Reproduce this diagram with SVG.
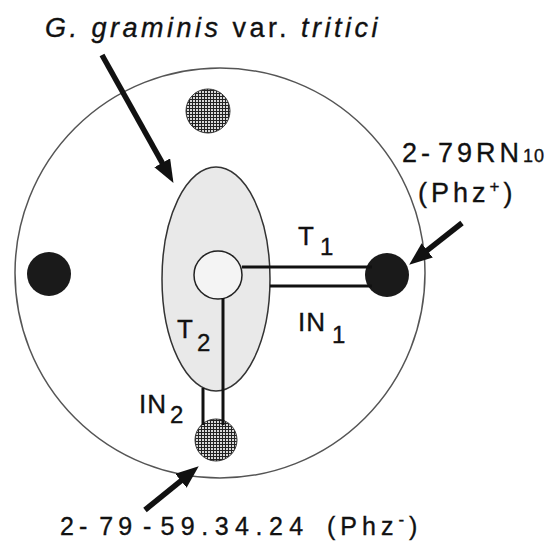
<svg xmlns="http://www.w3.org/2000/svg" width="553" height="549" viewBox="0 0 553 549">
<style>
text{font-family:"Liberation Sans",Arial,sans-serif;fill:#111;stroke:#111;stroke-width:0.35px;}
.lbl{font-size:26px;letter-spacing:1px;}
.sub{font-size:24px;}
.conn{stroke:#111;stroke-width:3;fill:none;}
.arrow{stroke:#111;stroke-width:5.5;fill:none;}
</style>
<defs>
<pattern id="hatch" width="3" height="3" patternUnits="userSpaceOnUse">
<rect width="3" height="3" fill="#d8d8d8"/>
<path d="M0,0.5H3M0.5,0V3" stroke="#222" stroke-width="1"/>
</pattern>
<marker id="ah" markerUnits="userSpaceOnUse" markerWidth="26" markerHeight="20" refX="4" refY="9" orient="auto">
<path d="M0,0 L23,9 L0,18 z" fill="#111"/>
</marker>
</defs>
<rect width="553" height="549" fill="#fff"/>
<g id="plate"><circle cx="220" cy="273" r="205" fill="none" stroke="#555" stroke-width="1.5"/></g>
<g id="fungus"><ellipse cx="216" cy="279" rx="54" ry="112" fill="#e9e9e9" stroke="#333" stroke-width="1.5"/></g>
<g id="center"><circle cx="218" cy="275" r="24" fill="#f4f4f4" stroke="#222" stroke-width="1.5"/></g>
<g id="top-hatched"><circle cx="208" cy="111" r="22" fill="url(#hatch)" stroke="#333" stroke-width="1"/></g>
<g id="left-black"><circle cx="49" cy="274" r="22" fill="#1a1a1a"/></g>
<g id="right-black"><circle cx="387" cy="275" r="22" fill="#1a1a1a"/></g>
<g id="bottom-hatched"><circle cx="216" cy="440" r="21" fill="url(#hatch)" stroke="#333" stroke-width="1"/></g>
<g id="connectors">
<line class="conn" x1="242" y1="267" x2="372" y2="267"/>
<line class="conn" x1="270" y1="286" x2="372" y2="286"/>
<line class="conn" x1="223" y1="298" x2="223" y2="425"/>
<line class="conn" x1="203" y1="388" x2="203" y2="425"/>
<line class="arrow" x1="102" y1="55" x2="164.2" y2="166.3" marker-end="url(#ah)"/>
<line class="arrow" x1="462" y1="223" x2="424.1" y2="252.9" marker-end="url(#ah)"/>
<line class="arrow" x1="145" y1="510" x2="184" y2="478.3" marker-end="url(#ah)"/>
</g>
<g id="labels">
<text x="45" y="37" style="font-size:27px;letter-spacing:3.5px"><tspan font-style="italic">G. graminis</tspan> var. <tspan font-style="italic">tritici</tspan></text>
<text x="402" y="162" style="font-size:27px;letter-spacing:4px">2-<tspan dx="4">79RN</tspan><tspan style="font-size:18px;letter-spacing:1px">10</tspan></text>
<text x="418" y="202" style="font-size:27px;letter-spacing:4px">(Phz<tspan style="font-size:17px" dy="-10">+</tspan><tspan dy="10">)</tspan></text>
<text x="298" y="245" class="lbl">T<tspan class="sub" dx="5" dy="10">1</tspan></text>
<text x="298" y="331" class="lbl">IN<tspan class="sub" dx="6" dy="12">1</tspan></text>
<text x="177" y="338" class="lbl">T<tspan class="sub" dx="3" dy="13">2</tspan></text>
<text x="139" y="413" class="lbl">IN<tspan class="sub" dx="3" dy="10">2</tspan></text>
<text x="60" y="535" style="font-size:25px;letter-spacing:5px">2-<tspan dx="7">79</tspan><tspan dx="6">-</tspan><tspan dx="4" style="letter-spacing:6.5px">59.34.24</tspan><tspan x="327">(Phz</tspan><tspan style="font-size:17px" dy="-10">-</tspan><tspan dy="10">)</tspan></text>
</g>
</svg>
